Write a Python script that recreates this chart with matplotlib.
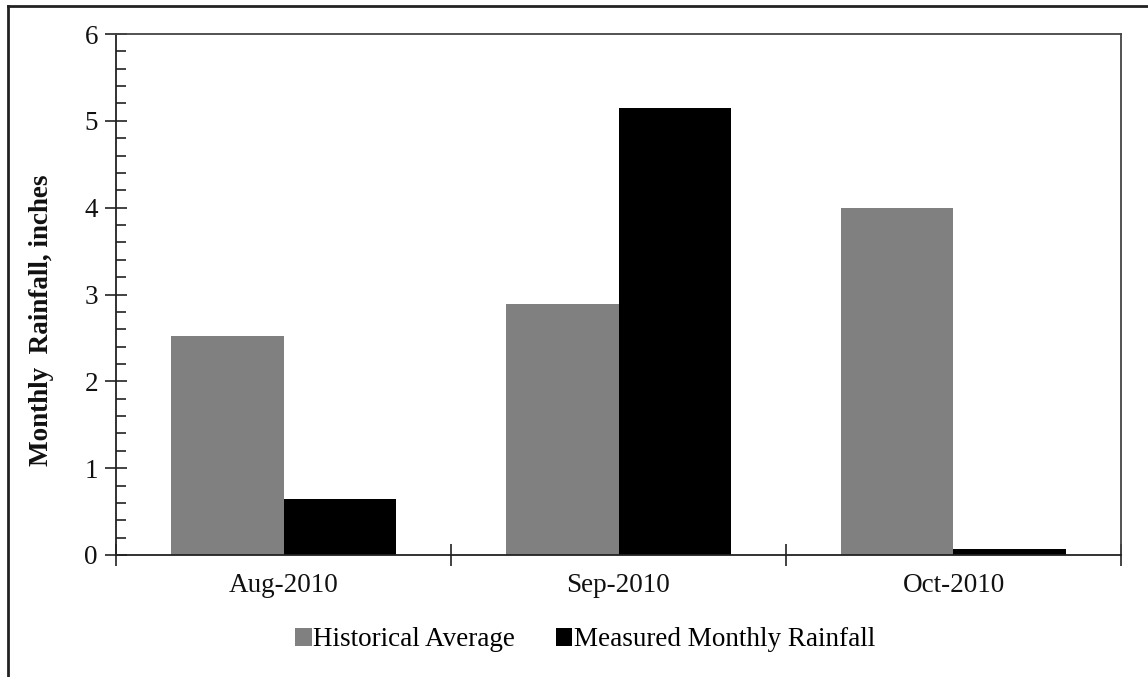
import matplotlib.pyplot as plt
import numpy as np
from matplotlib.ticker import MultipleLocator
from matplotlib.lines import Line2D

categories = ["Aug-2010", "Sep-2010", "Oct-2010"]
historical = [2.52, 2.89, 4.0]
measured = [0.645, 5.15, 0.07]
series_names = ["Historical Average", "Measured Monthly Rainfall"]

W, H = 1148, 677
fig = plt.figure(figsize=(W/100, H/100), dpi=100)
plt.rcParams['font.family'] = ['Liberation Serif', 'DejaVu Serif']
FS = 19.5

left, right, top, bottom = 116, 1121, 34, 555
ax = fig.add_axes([left/W, 1-bottom/H, (right-left)/W, (bottom-top)/H])

x = np.arange(len(categories))
bw = 0.337
ax.bar(x - bw/2, historical, bw, color='#808080', label=series_names[0], zorder=2)
ax.bar(x + bw/2, measured, bw, color='#000000', label=series_names[1], zorder=2)

ax.set_xlim(-0.5, len(categories) - 0.5)
ax.set_ylim(0, 6)
ax.yaxis.set_major_locator(MultipleLocator(1))
ax.yaxis.set_minor_locator(MultipleLocator(0.2))
ax.tick_params(axis='y', which='major', direction='inout', length=16, width=1.2, labelsize=FS, pad=5, colors='#222222')
ax.tick_params(axis='y', which='minor', direction='in', length=7, width=1.2, colors='#222222')
ax.set_xticks(x)
ax.set_xticklabels(categories)
ax.set_xticks(np.arange(len(categories)+1) - 0.5, minor=True)
ax.tick_params(axis='x', which='major', length=0, labelsize=FS, pad=13, colors='#222222')
ax.tick_params(axis='x', which='minor', direction='inout', length=16, width=1.2, colors='#222222')
for lab in ax.get_yticklabels() + ax.get_xticklabels():
    lab.set_color('#111111')

for s in ['left', 'bottom']:
    ax.spines[s].set_color('#222222')
    ax.spines[s].set_linewidth(1.3)
for s in ['top', 'right']:
    ax.spines[s].set_color('#444444')
    ax.spines[s].set_linewidth(1.3)

fig.text(42/W, 1-320/H, "Monthly  Rainfall, inches", rotation=90, fontsize=FS,
         fontweight='bold', ha='center', va='center', color='#111111')

leg = fig.legend(loc='center', bbox_to_anchor=(585/W, 1-640/H), ncol=2, frameon=False,
                 fontsize=FS, handlelength=0.62, handleheight=0.62, handletextpad=0.06,
                 columnspacing=1.5)

fig.add_artist(Line2D([8/W, 8/W], [0, 1-6/H], color='#222222', lw=2, transform=fig.transFigure))
fig.add_artist(Line2D([8/W, 1], [1-6/H, 1-6/H], color='#222222', lw=2, transform=fig.transFigure))

fig.savefig('out.png', dpi=100)
